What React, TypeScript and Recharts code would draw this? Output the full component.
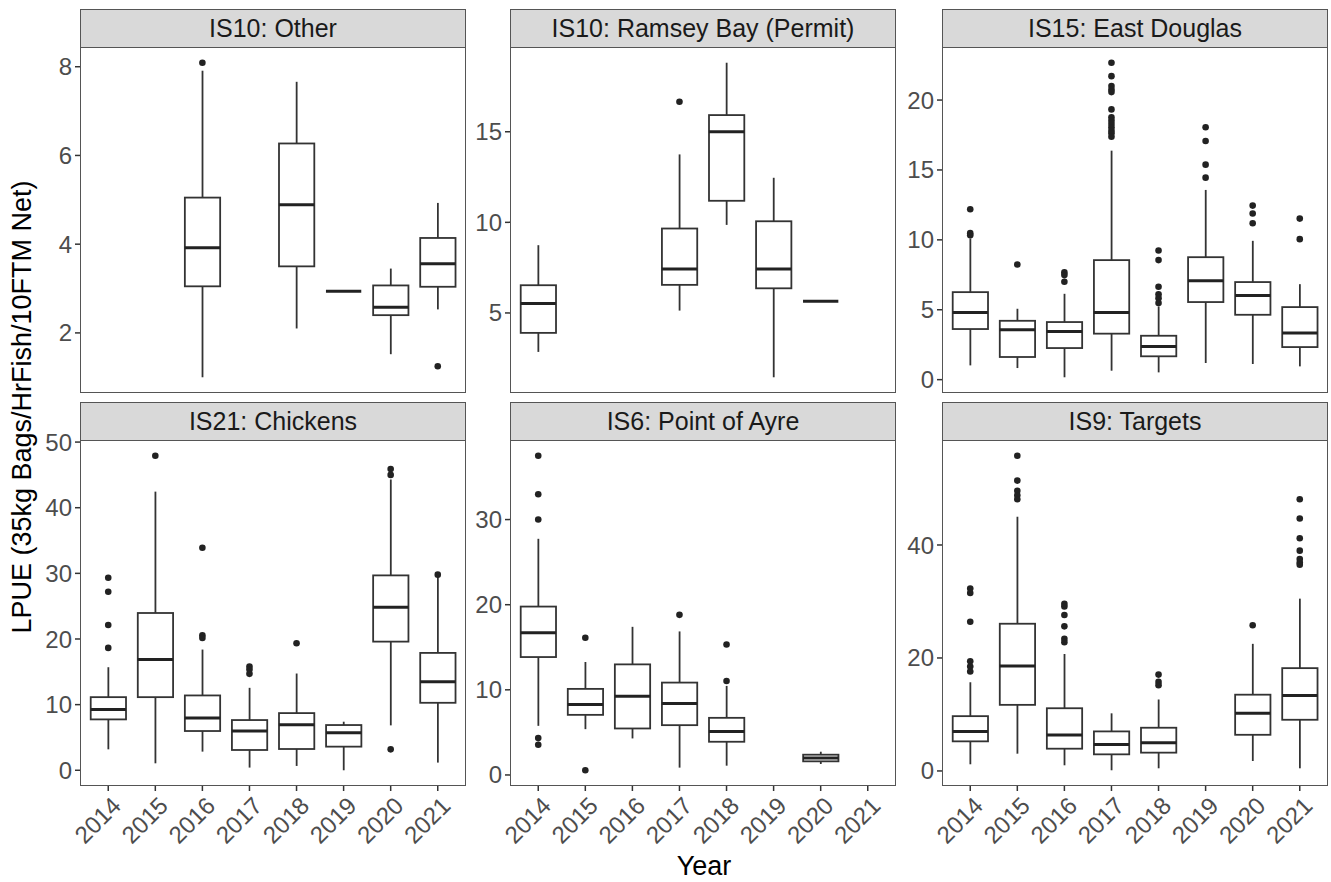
import React from 'react';
import { ComposedChart, Bar, Scatter, XAxis, YAxis } from 'recharts';

const years = ['2014', '2015', '2016', '2017', '2018', '2019', '2020', '2021'];

// each box: [lower whisker, Q1, median, Q3, upper whisker]; null = no data that year
const otherBoxes = [
  null, null, [1.0, 3.05, 3.92, 5.05, 7.91], null,
  [2.1, 3.5, 4.89, 6.27, 7.66], [2.94, 2.94, 2.94, 2.94, 2.94],
  [1.52, 2.4, 2.58, 3.07, 3.45], [2.53, 3.04, 3.56, 4.14, 4.93],
];
const otherOutliers = [[], [], [8.09], [], [], [], [], [1.25]];

const ramseyBoxes = [
  [2.85, 3.9, 5.52, 6.53, 8.74], null, null, [5.13, 6.55, 7.43, 9.66, 13.75],
  [9.86, 11.19, 15.0, 15.92, 18.81], [1.45, 6.36, 7.43, 10.06, 12.46],
  [5.64, 5.64, 5.64, 5.64, 5.64], null,
];
const ramseyOutliers = [[], [], [], [16.66], [], [], [], []];

const douglasBoxes = [
  [1.02, 3.62, 4.81, 6.26, 10.1], [0.83, 1.62, 3.57, 4.21, 5.07],
  [0.17, 2.26, 3.45, 4.12, 6.14], [0.64, 3.29, 4.81, 8.55, 16.38],
  [0.52, 1.67, 2.38, 3.14, 5.24], [1.19, 5.55, 7.07, 8.76, 13.57],
  [1.12, 4.64, 6.02, 6.98, 9.93], [0.95, 2.33, 3.33, 5.19, 6.83],
];
const douglasOutliers = [
  [12.19, 10.48, 10.33], [8.24], [7.67, 7.48, 7.0],
  [22.67, 21.71, 21.0, 20.76, 20.57, 19.33, 18.76, 18.52, 18.29, 18.05, 17.81, 17.62, 17.38],
  [9.24, 8.55, 6.64, 6.1, 5.83, 5.48], [18.05, 17.07, 15.38, 14.45],
  [12.45, 11.88, 11.19], [11.52, 10.05],
];

const chickensBoxes = [
  [3.19, 7.75, 9.27, 11.14, 15.7], [1.06, 11.14, 16.87, 23.96, 42.45],
  [2.84, 5.98, 7.95, 11.4, 18.39], [0.41, 3.09, 5.98, 7.65, 12.56],
  [0.66, 3.24, 6.94, 8.71, 14.74], [0.0, 3.6, 5.72, 6.89, 7.4],
  [6.84, 19.6, 24.82, 29.69, 44.3], [1.17, 10.28, 13.48, 17.88, 29.5],
];
const chickensOutliers = [
  [29.33, 27.2, 22.14, 18.64], [47.92], [33.89, 20.57, 20.16], [15.8, 15.35, 14.69],
  [19.35], [], [45.9, 45.0, 3.19], [29.8],
];

const ayreBoxes = [
  [5.77, 13.85, 16.7, 19.78, 27.74], [5.38, 7.06, 8.27, 10.11, 13.27],
  [4.29, 5.46, 9.25, 12.99, 17.4], [0.86, 5.85, 8.39, 10.85, 16.86],
  [1.09, 3.9, 5.11, 6.71, 10.46], null, [1.29, 1.6, 1.99, 2.38, 2.73], null,
];
const ayreOutliers = [[37.5, 32.97, 30.0, 4.33, 3.55], [16.11, 0.55], [], [18.81], [15.33, 11.04], [], [], []];

const targetsBoxes = [
  [1.18, 5.24, 7.0, 9.7, 15.7], [3.06, 11.7, 18.6, 26.06, 45.0],
  [1.0, 3.94, 6.35, 11.1, 20.7], [0.12, 2.94, 4.7, 7.0, 10.2],
  [0.47, 3.24, 5.0, 7.65, 12.65], null,
  [1.76, 6.4, 10.2, 13.5, 22.5], [0.47, 9.06, 13.35, 18.2, 30.5],
];
const targetsOutliers = [
  [32.3, 31.5, 26.4, 19.4, 18.5, 17.6], [55.8, 51.4, 49.6, 48.8, 48.1],
  [29.6, 29.1, 27.6, 25.6, 23.4, 22.8], [], [17.06, 15.76, 15.18], [], [25.8],
  [48.1, 44.7, 41.2, 39.0, 37.5, 36.9, 36.5],
];

const panels = [
  { title: 'IS10: Other', boxes: otherBoxes, outliers: otherOutliers, ticks: [2, 4, 6, 8] },
  { title: 'IS10: Ramsey Bay (Permit)', boxes: ramseyBoxes, outliers: ramseyOutliers, ticks: [5, 10, 15] },
  { title: 'IS15: East Douglas', boxes: douglasBoxes, outliers: douglasOutliers, ticks: [0, 5, 10, 15, 20] },
  { title: 'IS21: Chickens', boxes: chickensBoxes, outliers: chickensOutliers, ticks: [0, 10, 20, 30, 40, 50] },
  { title: 'IS6: Point of Ayre', boxes: ayreBoxes, outliers: ayreOutliers, ticks: [0, 10, 20, 30] },
  { title: 'IS9: Targets', boxes: targetsBoxes, outliers: targetsOutliers, ticks: [0, 20, 40] },
];

const FONT = '"Liberation Sans", Arial, Helvetica, sans-serif';
const INK = '#333333';
const colLeft = [80, 510, 942];
const stripTop = [9, 402];
const plotTop = [47, 440];
const plotW = 386;
const plotH = 346;
const yAxisW = 60;
const xAxisH = 70;
const topRoom = 16;
const unit = plotW / 8.2;
const boxW = unit * 0.75;

function domainOf(boxes, outliers) {
  const vals = [];
  boxes.forEach((b) => b && vals.push(...b));
  outliers.forEach((o) => vals.push(...o));
  const lo = Math.min(...vals);
  const hi = Math.max(...vals);
  const pad = (hi - lo) * 0.05;
  return [lo - pad, hi + pad];
}

function buildRows(boxes, outliers) {
  return years.map((year, i) => {
    const row: any = { year };
    const b = boxes[i];
    if (b) {
      row.base = b[0];
      row.lw = b[1] - b[0];
      row.box = b[3] - b[1];
      row.uw = b[4] - b[3];
      row.med = b[2];
    }
    outliers[i].forEach((v, k) => (row['o' + k] = v));
    return row;
  });
}

const Whisker = (props: any) => {
  const { x, y, width, height, payload } = props;
  if (!payload || payload.base == null || !height) return null;
  const cx = x + width / 2;
  return <line x1={cx} x2={cx} y1={y} y2={y + height} stroke={INK} strokeWidth={1.8} />;
};

const BoxRect = (props: any) => {
  const { x, y, width, height, payload } = props;
  if (!payload || payload.base == null || !height) return null;
  return <rect x={x} y={y} width={width} height={height} fill="#ffffff" stroke={INK} strokeWidth={1.8} />;
};

const Median = (props: any) => {
  const { cx, cy, payload } = props;
  if (!payload || payload.med == null || cy == null) return null;
  return <line x1={cx - boxW / 2} x2={cx + boxW / 2} y1={cy} y2={cy} stroke="#222" strokeWidth={3} />;
};

const Dot = (props: any) => {
  const { cx, cy } = props;
  if (cy == null || isNaN(cy)) return null;
  return <circle cx={cx} cy={cy} r={3.3} fill="#222" />;
};

const YearTick = (props: any) => {
  const { x, y, payload } = props;
  return (
    <g transform={`translate(${x + 2},${y + 2})`}>
      <text transform="rotate(-45)" textAnchor="end" dy="0.72em" fontSize={24} fill="#4D4D4D" fontFamily={FONT}>
        {payload.value}
      </text>
    </g>
  );
};

function Panel({ p, index }) {
  const col = index % 3;
  const row = Math.floor(index / 3);
  const rows = buildRows(p.boxes, p.outliers);
  const nOut = Math.max(...p.outliers.map((o) => o.length));
  const bottom = row === 1;
  const left = colLeft[col];
  return (
    <>
      <div
        style={{
          position: 'absolute', left, top: stripTop[row], width: plotW, height: plotTop[row] - stripTop[row] + 1,
          boxSizing: 'border-box', background: '#D9D9D9', border: '1.5px solid #555',
          display: 'flex', alignItems: 'center', justifyContent: 'center',
          fontFamily: FONT, fontSize: 25, color: '#1A1A1A',
        }}
      >
        {p.title}
      </div>
      <div style={{ position: 'absolute', left: left - yAxisW, top: plotTop[row] - topRoom }}>
        <ComposedChart
          width={yAxisW + plotW}
          height={topRoom + plotH + (bottom ? xAxisH : 0)}
          data={rows}
          margin={{ top: topRoom, right: 0, bottom: 0, left: 0 }}
        >
          <XAxis
            dataKey="year"
            hide={!bottom}
            height={xAxisH}
            interval={0}
            padding={{ left: unit * 0.1, right: unit * 0.1 }}
            axisLine={false}
            tickLine={{ stroke: INK, strokeWidth: 1.5 }}
            tickSize={5}
            tick={<YearTick />}
          />
          <YAxis
            type="number"
            width={yAxisW}
            domain={domainOf(p.boxes, p.outliers)}
            allowDataOverflow
            ticks={p.ticks}
            interval={0}
            axisLine={false}
            tickLine={{ stroke: INK, strokeWidth: 1.5 }}
            tickSize={5}
            tickMargin={3}
            tick={{ fontSize: 24, fill: '#4D4D4D', fontFamily: FONT }}
          />
          <Bar dataKey="base" stackId="s" barSize={boxW} shape={() => null} isAnimationActive={false} />
          <Bar dataKey="lw" stackId="s" barSize={boxW} shape={<Whisker />} isAnimationActive={false} />
          <Bar dataKey="box" stackId="s" barSize={boxW} shape={<BoxRect />} isAnimationActive={false} />
          <Bar dataKey="uw" stackId="s" barSize={boxW} shape={<Whisker />} isAnimationActive={false} />
          <Scatter dataKey="med" shape={<Median />} isAnimationActive={false} />
          {Array.from({ length: nOut }, (_, k) => (
            <Scatter key={k} dataKey={'o' + k} shape={<Dot />} isAnimationActive={false} />
          ))}
        </ComposedChart>
      </div>
      <div
        style={{
          position: 'absolute', left, top: plotTop[row], width: plotW, height: plotH,
          boxSizing: 'border-box', border: '1.5px solid #555', pointerEvents: 'none',
        }}
      />
    </>
  );
}

export default function App() {
  return (
    <div style={{ position: 'absolute', left: 0, top: 0, width: 1331, height: 882, background: '#fff', overflow: 'hidden' }}>
      {panels.map((p, i) => (
        <Panel key={p.title} p={p} index={i} />
      ))}
      <div
        style={{
          position: 'absolute', left: 22, top: 407, transform: 'translate(-50%, -50%) rotate(-90deg)',
          whiteSpace: 'nowrap', fontFamily: FONT, fontSize: 27, color: '#000',
        }}
      >
        LPUE (35kg Bags/HrFish/10FTM Net)
      </div>
      <div
        style={{
          position: 'absolute', left: 704, top: 866, transform: 'translate(-50%, -50%)',
          whiteSpace: 'nowrap', fontFamily: FONT, fontSize: 27, color: '#000',
        }}
      >
        Year
      </div>
    </div>
  );
}
